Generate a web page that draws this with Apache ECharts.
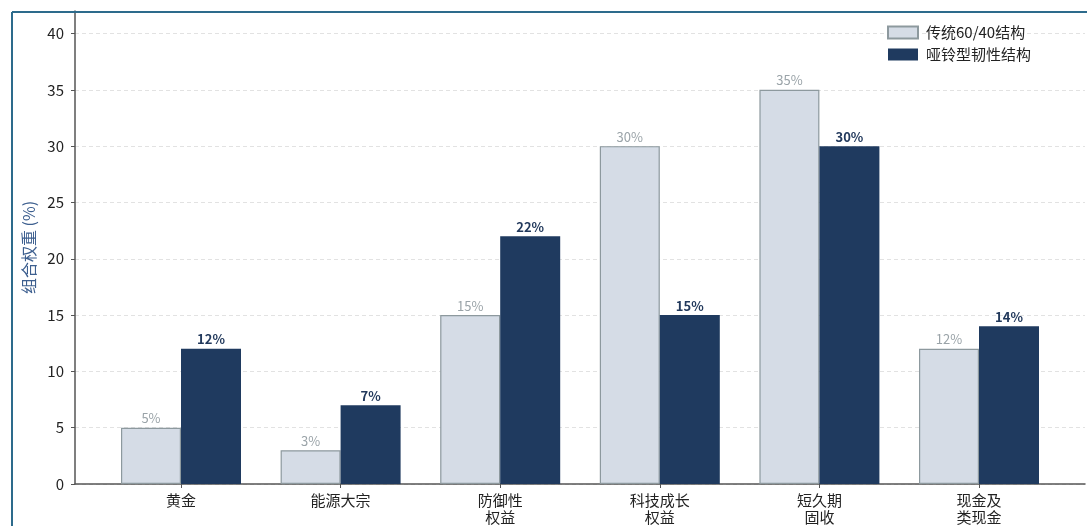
<!DOCTYPE html>
<html><head><meta charset="utf-8">
<script src="https://cdn.jsdelivr.net/npm/echarts@6/dist/echarts.min.js"></script>
<style>html,body{margin:0;padding:0;background:#fff}#c{width:1087px;height:526px}</style>
</head><body><div id="c"></div>
<script>
const categories = ['黄金', '能源大宗', '防御性\n权益', '科技成长\n权益', '短久期\n固收', '现金及\n类现金'];
const traditional = [5, 3, 15, 30, 35, 12];
const barbell = [12, 7, 22, 15, 30, 14];
const seriesNames = ['传统60/40结构', '哑铃型韧性结构'];
const yTicks = { min: 0, max: 42, interval: 5 };

const FONT = '"Noto Sans CJK SC", "Noto Sans", sans-serif';
const chart = echarts.init(document.getElementById('c'), null, { renderer: 'canvas' });
const G_TOP = 11, G_BOTTOM = 526 - 484;
chart.setOption({
  animation: false,
  textStyle: { fontFamily: FONT },
  graphic: [
    { type: 'line', shape: { x1: 12, y1: 12, x2: 1087, y2: 12 }, style: { stroke: '#2d6b8c', lineWidth: 2 }, z: 100 },
    { type: 'line', shape: { x1: 12, y1: 12, x2: 12, y2: 526 }, style: { stroke: '#2d6b8c', lineWidth: 2 }, z: 100 }
  ],
  legend: {
    left: 882, top: 20, orient: 'vertical', itemGap: 7,
    itemWidth: 30, itemHeight: 12, icon: 'rect',
    textStyle: { fontSize: 15, color: '#222', fontFamily: FONT, padding: [0, 0, 0, 3] },
    data: seriesNames
  },
  grid: [
    { left: 75, right: 2, top: G_TOP, bottom: G_BOTTOM },
    { left: 101.2, right: 28.2, top: G_TOP, bottom: G_BOTTOM }
  ],
  xAxis: [
    { gridIndex: 0, type: 'category', data: [''], axisLine: { lineStyle: { color: '#555', width: 1.5 } }, axisTick: { show: false }, axisLabel: { show: false } },
    { gridIndex: 1, type: 'category', data: categories,
      axisLine: { show: false },
      axisTick: { show: true, alignWithLabel: true, length: 4, lineStyle: { color: '#555' } },
      axisLabel: { fontSize: 15, color: '#222', lineHeight: 17, margin: 8, fontFamily: FONT } }
  ],
  yAxis: [
    { gridIndex: 0, type: 'value', min: yTicks.min, max: yTicks.max, interval: yTicks.interval,
      name: '组合权重 (%)', nameLocation: 'middle', nameGap: 37, nameRotate: 90,
      nameTextStyle: { fontSize: 16, color: '#3d5f8f', fontFamily: FONT },
      axisLine: { show: true, lineStyle: { color: '#555', width: 1.5 } },
      axisTick: { show: true, length: 4, lineStyle: { color: '#555' } },
      axisLabel: { fontSize: 15, color: '#222', margin: 11, showMaxLabel: false, fontFamily: FONT },
      splitLine: { show: true, lineStyle: { color: '#e2e2e2', type: [4, 3] } } },
    { gridIndex: 1, type: 'value', min: yTicks.min, max: yTicks.max, interval: yTicks.interval, show: false, splitLine: { show: false } }
  ],
  series: [
    { name: seriesNames[0], type: 'bar', xAxisIndex: 1, yAxisIndex: 1, data: traditional,
      barWidth: 60, barGap: '0%',
      itemStyle: { color: '#d5dce6', borderColor: '#8d999e', borderWidth: 1.2 },
      label: { show: true, position: 'top', distance: 3, formatter: p => p.value + '%', fontSize: 13, color: '#9aa3a8', fontFamily: FONT } },
    { name: seriesNames[1], type: 'bar', xAxisIndex: 1, yAxisIndex: 1, data: barbell,
      barWidth: 60, barGap: '0%',
      itemStyle: { color: '#1f3a5f', borderColor: '#8d999e', borderWidth: 0 },
      label: { show: true, position: 'top', distance: 3, formatter: p => p.value + '%', fontSize: 13, fontWeight: 'bold', color: '#22395c', fontFamily: FONT } }
  ]
});
</script></body></html>
